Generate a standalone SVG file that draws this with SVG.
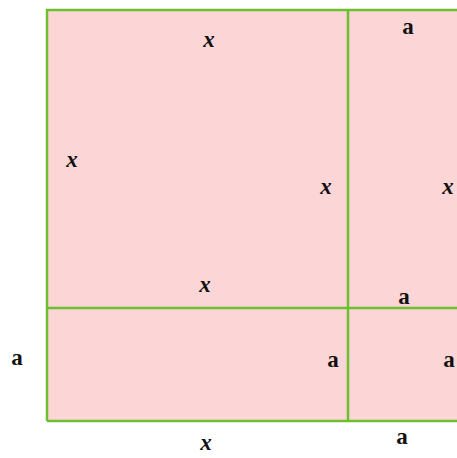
<svg xmlns="http://www.w3.org/2000/svg" width="457" height="458" viewBox="0 0 457 458">
<style>
.ln{stroke:#6cbf2e;stroke-width:2.5;fill:none}
.t{font-family:"Liberation Serif","Times New Roman",serif;font-size:23px;font-weight:bold;fill:#111;text-anchor:middle}
.i{font-style:italic}
</style>
<rect x="0" y="0" width="457" height="458" fill="#ffffff"/>
<g id="square">
<rect x="47" y="10" width="420" height="411" fill="#fcd6d7"/>
</g>
<g id="connectors">
<path class="ln" d="M47 421 V10 H457"/>
<path class="ln" d="M47 421 H457"/>
<path class="ln" d="M348 10 V421"/>
<path class="ln" d="M47 308 H457"/>
</g>
<g id="labels">
<text class="t i" x="209" y="47">x</text>
<text class="t" x="408" y="34">a</text>
<text class="t i" x="72" y="167">x</text>
<text class="t i" x="326" y="194">x</text>
<text class="t i" x="448" y="194">x</text>
<text class="t i" x="205" y="292">x</text>
<text class="t" x="404" y="304">a</text>
<text class="t" x="17" y="365">a</text>
<text class="t" x="333" y="367">a</text>
<text class="t" x="449" y="367">a</text>
<text class="t i" x="206" y="450">x</text>
<text class="t" x="402" y="444">a</text>
</g>
</svg>
